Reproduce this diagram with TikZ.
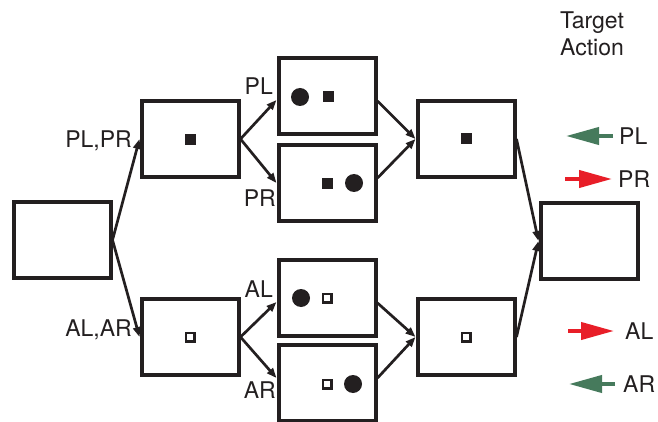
\documentclass[tikz,border=0pt]{standalone}
\usepackage{fontspec}
\setmainfont{TeX Gyre Heros}
\usetikzlibrary{arrows.meta,calc}
\definecolor{tgreen}{RGB}{70,122,92}
\definecolor{tred}{RGB}{232,30,40}
\definecolor{ink}{RGB}{35,31,32}
\tikzset{
  box/.style={draw=ink, line width=4pt, minimum width=97pt, minimum height=76pt, inner sep=0pt},
  arr/.style={draw=ink, line width=2.7pt, -{Triangle[length=10pt,width=7.5pt]}},
  lab/.style={text=ink, font=\fontsize{23}{27}\selectfont, inner sep=0pt},
  fsq/.style={fill=ink, minimum size=11pt, inner sep=0pt},
  hsq/.style={draw=ink, line width=2.5pt, fill=white, minimum size=8.5pt, inner sep=0pt},
  dot/.style={circle, fill=ink, minimum size=18pt, inner sep=0pt},
  carr/.style={line width=4pt, -{Triangle[length=33pt,width=17pt]}},
}
\begin{document}
\begin{tikzpicture}[x=1pt,y=-1pt]
\useasboundingbox (0,0) rectangle (658,422);
% boxes
\node[box] (b1) at (62,240) {};
\node[box] (b2t) at (190,139) {};
\node[box] (b2b) at (190,337) {};
\node[box] (b3a) at (327,96) {};
\node[box] (b3b) at (327,183) {};
\node[box] (b3c) at (327,298) {};
\node[box] (b3d) at (327,383) {};
\node[box] (b4t) at (466,139) {};
\node[box] (b4b) at (466,337) {};
\node[box] (b5) at (589,241) {};
% contents
\node[fsq] (s2t) at (190,140) {};
\node[hsq] (s2b) at (190,337) {};
\node[dot] (c3a) at (300,97) {};
\node[fsq] (s3a) at (328,97) {};
\node[fsq] (s3b) at (327,184) {};
\node[dot] (c3b) at (354,183) {};
\node[dot] (c3c) at (301,298) {};
\node[hsq] (s3c) at (327,298) {};
\node[hsq] (s3d) at (327,384) {};
\node[dot] (c3d) at (353,384) {};
\node[fsq] (s4t) at (466,139) {};
\node[hsq] (s4b) at (466,337) {};
% connectors
\draw[arr] (b1.east) -- (b2t.west);
\draw[arr] (b1.east) -- (b2b.west);
\draw[arr] (b2t.east) -- ($(b3a.west)+(0,4)$);
\draw[arr] (b2t.east) -- (b3b.west);
\draw[arr] (b2b.east) -- ($(b3c.west)+(0,4)$);
\draw[arr] (b2b.east) -- ($(b3d.west)+(0,-5)$);
\draw[arr] ($(b3a.east)+(0,5)$) -- (b4t.west);
\draw[arr] ($(b3b.east)+(0,-5)$) -- (b4t.west);
\draw[arr] ($(b3c.east)+(0,5)$) -- (b4b.west);
\draw[arr] ($(b3d.east)+(0,-5)$) -- (b4b.west);
\draw[arr] (b4t.east) -- (b5.west);
\draw[arr] (b4b.east) -- (b5.west);
% labels
\node[lab, anchor=east] (lplpr) at (132,141) {PL,PR};
\node[lab, anchor=east] (lalar) at (132,330) {AL,AR};
\node[lab, anchor=east] (lpl) at (273,86) {PL};
\node[lab, anchor=east] (lpr) at (276,198) {PR};
\node[lab, anchor=east] (lal) at (273,289) {AL};
\node[lab, anchor=east] (lar) at (276,390) {AR};
\node[lab, align=center] (ta) at (592,34) {Target\\Action};
% target actions
\coordinate (g1a) at (613,136); \coordinate (g1b) at (566,136);
\draw[carr, tgreen] (g1a) -- (g1b);
\node[lab, anchor=west] (tpl) at (619,136) {PL};
\coordinate (r1a) at (565,179); \coordinate (r1b) at (612,179);
\draw[carr, tred] (r1a) -- (r1b);
\node[lab, anchor=west] (tpr) at (618,179) {PR};
\coordinate (r2a) at (568,331); \coordinate (r2b) at (614,331);
\draw[carr, tred] (r2a) -- (r2b);
\node[lab, anchor=west] (tal) at (625,331) {AL};
\coordinate (g2a) at (615,384); \coordinate (g2b) at (569,384);
\draw[carr, tgreen] (g2a) -- (g2b);
\node[lab, anchor=west] (tar) at (623,384) {AR};
\end{tikzpicture}
\end{document}
